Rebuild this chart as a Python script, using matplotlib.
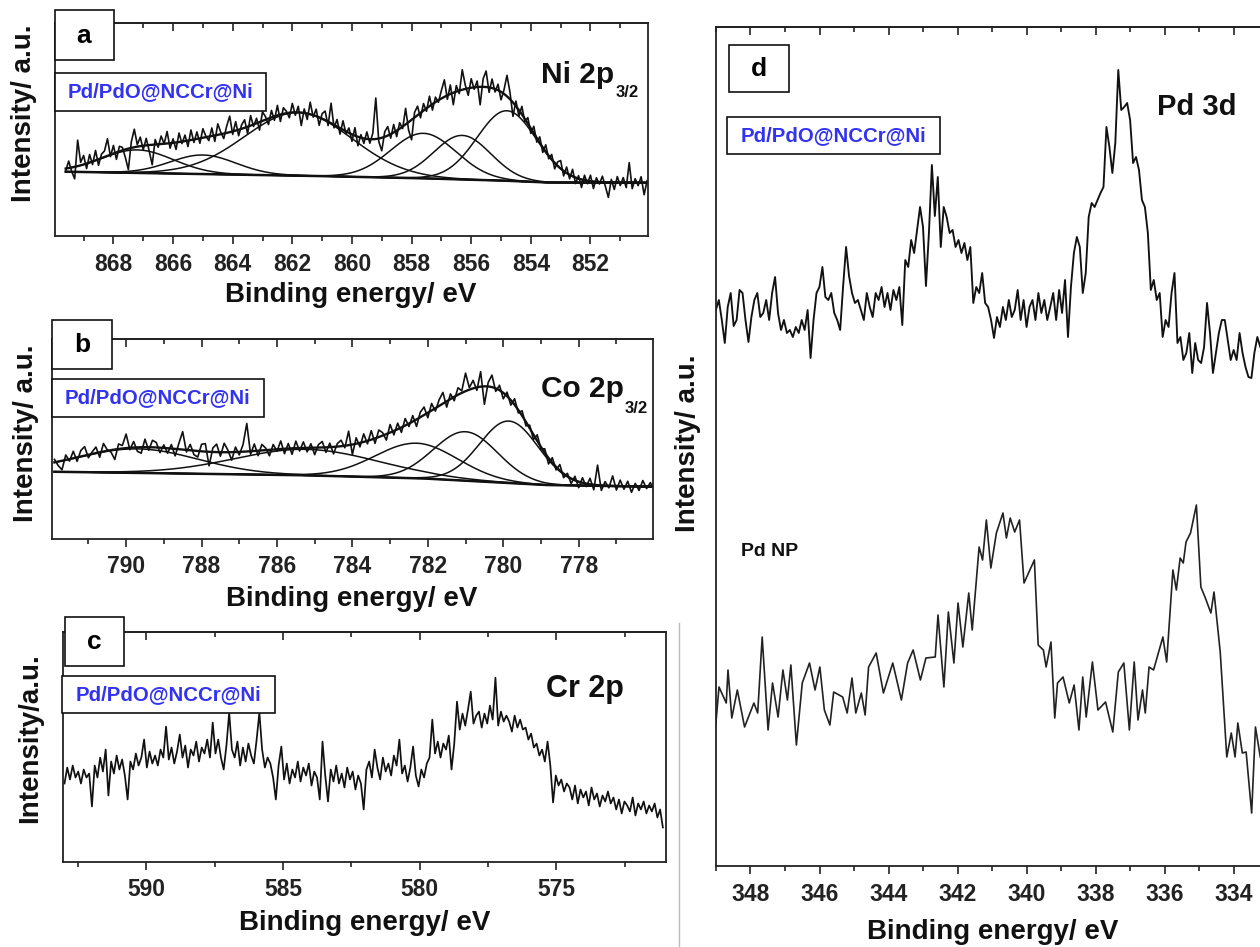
import numpy as np
import matplotlib
matplotlib.use("Agg")
import matplotlib.pyplot as plt
from matplotlib.patches import Rectangle
from matplotlib.lines import Line2D
from matplotlib.ticker import MultipleLocator, FormatStrFormatter, NullFormatter

plt.rcParams['font.family'] = ['Liberation Sans', 'DejaVu Sans']
plt.rcParams['font.weight'] = 'bold'

# ---------------- data ----------------
# (a) Ni 2p3/2 : fitted background, fitted components, residual noise of the measured spectrum (0.1 eV steps)
ni_range = (869.6, 850.1)
ni_bg_ev = [869.6, 866.0, 862.0, 858.0, 855.0, 853.5, 850.1]
ni_bg_int = [64.3, 62.5, 60.5, 58.0, 55.5, 53.5, 53.3]
ni_peak_center = [867.2, 865.0, 861.8, 857.6, 856.3, 854.8]
ni_peak_height = [23, 19, 63, 45, 44, 70]
ni_peak_sigma = [1.2, 1.1, 1.8, 1.1, 0.95, 1.0]
ni_resid = [-2, 7, -4, -12, 26, 3, 9, -5, 8, -3,
            10, -6, 4, 6, 17, -2, 8, -7, 5, 3,
            -8, -21, 6, 18, 2, 9, -4, 7, -6, -20,
            5, -3, 8, 0, 12, -5, 4, -7, 9, -2,
            6, -6, 10, -3, 7, -5, 9, 1, -4, 8,
            -6, 11, 2, -5, 7, 16, -3, 9, -6, 4,
            8, -7, 10, -2, 5, -8, 9, 3, -6, 7,
            -4, 10, -7, 6, 2, -5, 9, -3, 6, -13,
            4, -6, 12, -2, 7, -8, 5, 9, -4, 20,
            -3, 7, -6, 9, -2, 5, -7, 8, -9, 3,
            -5, 7, -4, 6, 41, -3, -13, 5, 9, -4,
            8, -6, 6, -2, 16, -8, -20, 5, 9, -5,
            7, -3, 10, -6, 5, -2, 8, 17, -4, 9,
            -12, 6, -3, 20, 4, -7, 9, -2, 6, -18,
            8, 16, -5, 9, -3, 6, -8, 4, 21, 7,
            -14, 5, -6, 8, -3, 6, -5, 7, -4, 6,
            -5, 7, -3, 5, -6, 4, 8, -5, 6, -4,
            7, -6, 3, -8, 5, -3, 6, -7, 4, -2,
            6, -4, -15, 3, -7, 6, -3, 5, -5, 20,
            -6, 4, -3, 6, -12, 2]

# (b) Co 2p3/2 (residuals at 0.1 eV steps)
co_range = (791.9, 776.0)
co_bg_ev = [792.0, 785.6, 782.2, 778.9, 776.0]
co_bg_int = [67.0, 63.7, 60.4, 53.7, 52.0]
co_peak_center = [789.7, 785.2, 782.3, 781.0, 779.85]
co_peak_height = [24, 26, 35, 49, 62]
co_peak_sigma = [1.6, 1.9, 1.1, 0.85, 0.78]
co_resid = [3, -4, -9, 5, -2, 7, -4, 6, 9, -3,
            2, 6, -5, 8, 1, -2, -10, 5, 3, 14,
            -2, 6, -4, -6, 8, -3, 7, 5, -5, 3,
            -5, 4, -7, 6, 18, -2, 6, -4, -6, 7,
            8, -14, 4, 8, -4, 9, 2, -8, 5, -3,
            7, 28, -3, 7, -5, 6, 2, -6, 5, -2,
            8, -5, 5, -6, 7, -3, 6, -4, 4, -7,
            3, 6, -5, 4, -7, 3, 6, -2, 14, -10,
            6, -4, 8, -3, 9, -5, 7, 3, -6, 8,
            -4, 6, -5, 7, -3, 6, -7, 5, 8, -5,
            7, -3, 6, 11, -6, 5, -4, 7, 2, 18,
            2, 8, -3, 15, -18, 4, 12, -3, 5, -6,
            4, -5, 6, -3, 5, -4, 3, -5, 6, -2,
            4, -6, 5, -3, 6, -4, 3, -5, 4, -6,
            5, -3, 6, -5, 20, -5, 4, -2, 10, -4,
            6, -3, 5, -6, 3, -4, 6, -2, 4, -3]

# (c) Cr 2p  (0.1 eV steps from 593.0 to 571.1)
cr_range = (593.0, 571.1)
cr_int = [78, 94, 82, 96, 84, 90, 78, 92, 84, 88, 55,
          96, 84, 104, 90, 112, 66, 100, 88, 106, 92, 102, 86, 62,
          100, 92, 108, 96, 104, 122, 94, 110, 98, 106, 96, 112, 104, 135,
          102, 114, 98, 110, 127, 104, 116, 94, 112, 106, 120, 100, 114, 108, 122, 104, 139,
          108, 122, 104, 92, 116, 149, 112,
          104, 120, 96, 114, 100, 118, 106, 98, 122, 149,
          112, 94, 104, 98, 84, 62,
          96, 115, 82, 98, 78, 92, 84, 100, 80, 94, 86, 98, 76, 90, 84, 62,
          120, 86, 60, 92, 80, 96, 78, 88, 74, 94, 82, 90, 72, 86, 78, 52,
          92, 100, 84, 112, 94, 82, 104, 90, 98, 86, 106, 96, 122,
          88, 96, 80, 94, 115, 86, 75, 92, 84, 98, 104,
          142, 108, 120, 104, 118, 112, 126, 92, 118,
          160, 132, 148, 136, 152, 170, 138, 146,
          150, 134, 148, 138, 156, 142, 184, 136, 150, 140, 146,
          140, 130, 146, 134, 142, 132,
          134, 122, 128, 114, 118, 106, 112, 100, 120, 96,
          59, 86, 76, 82, 70, 78,
          74, 62, 76, 58, 72, 64, 70, 56, 74, 62, 68, 55, 66, 60, 70, 58,
          64, 52, 62, 48, 60, 56, 50, 64, 46, 58, 52, 60, 48, 56, 50, 58, 44, 52, 34]

# (d) Pd 3d, Pd/PdO@NCCr@Ni (upper trace)
pd_range = (349.0, 333.24)
pd_int = [556, 566, 546, 523, 559, 573, 540, 546, 576, 573,
          546, 524, 549, 566, 573, 549, 553, 566, 546, 573,
          589, 553, 536, 546, 533, 536, 529, 539, 533, 546,
          536, 556, 508, 546, 573, 579, 599, 569, 566, 573,
          553, 546, 536, 580, 619, 590, 573, 563, 566, 556,
          546, 573, 559, 549, 573, 566, 579, 559, 573, 556,
          576, 566, 579, 541, 606, 599, 626, 613, 636, 659,
          639, 580, 633, 701, 650, 689, 619, 659, 649, 633,
          636, 619, 626, 613, 623, 606, 619, 563, 579, 573,
          593, 563, 559, 546, 528, 549, 539, 559, 546, 566,
          549, 556, 576, 546, 566, 539, 559, 566, 546, 573,
          553, 566, 546, 559, 573, 546, 576, 553, 586, 529,
          579, 613, 629, 619, 573, 593, 649, 663, 659, 666,
          673, 679, 739, 719, 693, 723, 796, 756, 759, 763,
          746, 703, 709, 696, 666, 659, 633, 576, 586, 566,
          573, 529, 546, 539, 573, 593, 523, 529, 506, 513,
          533, 493, 523, 506, 503, 519, 563, 533, 493, 513,
          533, 546, 546, 526, 506, 516, 506, 533, 513, 499,
          489, 488, 513, 529, 519]

# (d) Pd NP (lower trace)
pdnp_ev = [349.00, 348.91, 348.70, 348.65, 348.54, 348.38, 348.17, 347.90, 347.79, 347.66,
           347.49, 347.36, 347.20, 347.06, 346.93, 346.83, 346.67, 346.50, 346.29, 346.13,
           345.99, 345.86, 345.70, 345.59, 345.33, 345.20, 345.06, 344.95, 344.79, 344.68,
           344.58, 344.36, 344.15, 343.88, 343.63, 343.45, 343.29, 343.08, 342.92, 342.65,
           342.57, 342.40, 342.27, 342.11, 341.99, 341.85, 341.68, 341.58, 341.38, 341.28,
           341.17, 341.04, 340.88, 340.69, 340.59, 340.48, 340.35, 340.21, 340.08, 339.78,
           339.67, 339.52, 339.44, 339.30, 339.19, 339.11, 338.95, 338.77, 338.63, 338.49,
           338.38, 338.28, 338.10, 337.94, 337.72, 337.51, 337.35, 337.19, 337.03, 336.89,
           336.78, 336.65, 336.57, 336.46, 336.33, 336.06, 335.95, 335.77, 335.67, 335.56,
           335.47, 335.39, 335.26, 335.09, 334.96, 334.83, 334.67, 334.58, 334.40, 334.21,
           334.08, 333.97, 333.89, 333.76, 333.65, 333.49, 333.38, 333.24]
pdnp_int = [143, 179, 163, 196, 148, 176, 139, 163, 153, 229,
            136, 183, 149, 196, 166, 201, 121, 183, 203, 176,
            199, 156, 141, 174, 169, 153, 188, 153, 173, 151,
            199, 213, 173, 203, 166, 203, 216, 186, 208, 209,
            251, 179, 254, 203, 263, 219, 273, 236, 319, 306,
            346, 298, 333, 353, 328, 348, 334, 346, 283, 306,
            221, 216, 199, 224, 148, 183, 189, 163, 181, 136,
            189, 149, 204, 156, 164, 134, 194, 203, 136, 204,
            146, 176, 153, 199, 196, 229, 204, 296, 276, 308,
            303, 324, 333, 361, 279, 268, 253, 274, 214, 109,
            133, 109, 143, 113, 114, 53, 139, 109]

sample_label = "Pd/PdO@NCCr@Ni"
BLUE = '#3232f0'
INK = '#111111'

# ---------------- figure ----------------
W, H = 1260, 947
fig = plt.figure(figsize=(W / 100, H / 100), dpi=100)


def make_axes(l, t, r, b, xlim, ylim, major, minor):
    ax = fig.add_axes([l / W, 1 - b / H, (r - l) / W, (b - t) / H])
    ax.set_xlim(*xlim)
    ax.set_ylim(*ylim)
    ax.set_yticks([])
    ax.xaxis.set_major_locator(MultipleLocator(major))
    ax.xaxis.set_minor_locator(MultipleLocator(minor))
    ax.xaxis.set_major_formatter(FormatStrFormatter('%d'))
    ax.tick_params(axis='x', which='major', direction='out', length=6, width=1.2,
                   labelsize=16.5, pad=6, colors='#222222')
    ax.tick_params(axis='x', which='minor', direction='out', length=3.5, width=1.2,
                   colors='#222222')
    for sp in ax.spines.values():
        sp.set_linewidth(1.3)
        sp.set_color('#222222')
    sec = ax.secondary_xaxis('top')
    sec.xaxis.set_major_locator(MultipleLocator(major))
    sec.xaxis.set_minor_locator(MultipleLocator(minor))
    sec.xaxis.set_major_formatter(NullFormatter())
    sec.tick_params(axis='x', which='major', direction='in', length=6, width=1.2, colors='#222222')
    sec.tick_params(axis='x', which='minor', direction='in', length=3.5, width=1.2, colors='#222222')
    sec.spines['top'].set_linewidth(1.3)
    sec.spines['top'].set_color('#222222')
    return ax


def box(l, t, r, b, lw=1.2):
    fig.add_artist(Rectangle((l / W, 1 - b / H), (r - l) / W, (b - t) / H,
                             transform=fig.transFigure, facecolor='white',
                             edgecolor=INK, lw=lw, zorder=10))


def ftext(x, y, s, **kw):
    kw.setdefault('zorder', 11)
    return fig.text(x / W, 1 - y / H, s, **kw)


def fit_parts(ev, bg_ev, bg_int, centers, heights, sigmas):
    bg = np.interp(ev, bg_ev[::-1], bg_int[::-1])
    comps = [h * np.exp(-0.5 * ((ev - c) / s) ** 2) for c, h, s in zip(centers, heights, sigmas)]
    return bg, comps


def draw_fit(ax, rng, bg_ev, bg_int, centers, heights, sigmas, resid):
    ev_fit = np.linspace(rng[0], rng[1], 600)
    bg, comps = fit_parts(ev_fit, bg_ev, bg_int, centers, heights, sigmas)
    ev_d = np.linspace(rng[0], rng[1], len(resid))
    bg_d, comps_d = fit_parts(ev_d, bg_ev, bg_int, centers, heights, sigmas)
    meas = bg_d + np.sum(comps_d, axis=0) + np.array(resid)
    for c in comps:
        ax.plot(ev_fit, bg + c, color=INK, lw=1.1)
    ax.plot(ev_fit, bg, color=INK, lw=1.8)
    ax.plot(ev_d, meas, color=INK, lw=1.2)
    ax.plot(ev_fit, bg + np.sum(comps, axis=0), color=INK, lw=1.7)


# ---- (a) ----
axa = make_axes(54.7, 22.7, 648, 236, (869.97, 850.07), (0, 213.3), 2, 1)
draw_fit(axa, ni_range, ni_bg_ev, ni_bg_int, ni_peak_center, ni_peak_height, ni_peak_sigma, ni_resid)

# ---- (b) ----
axb = make_axes(51.8, 339.3, 653, 538.7, (791.97, 776.03), (0, 199.4), 2, 1)
draw_fit(axb, co_range, co_bg_ev, co_bg_int, co_peak_center, co_peak_height, co_peak_sigma, co_resid)

# ---- (c) ----
axc = make_axes(63.4, 631.7, 665.6, 861.7, (593.04, 571.0), (-0.3, 230), 5, 2.5)
axc.plot(np.linspace(cr_range[0], cr_range[1], len(cr_int)), cr_int, color=INK, lw=1.25)

# ---- (d) ----
axd = make_axes(715.9, 26.7, 1290, 866, (349.0, 332.38), (0, 839.3), 2, 1)
axd.plot(np.linspace(pd_range[0], pd_range[1], len(pd_int)), pd_int, color=INK, lw=1.35)
axd.plot(pdnp_ev, pdnp_int, color='#222222', lw=1.2)

# ---- labels & boxes ----
lab_kw = dict(fontsize=19, ha='center', va='center', fontweight='bold')
smp_kw = dict(fontsize=14.7, ha='center', va='center', color=BLUE, fontweight='bold')
axl_kw = dict(fontsize=20, ha='center', va='center', fontweight='bold', color=INK)

renderer = fig.canvas.get_renderer()


def core_level(x, y, main, sub, size, sub_drop):
    t = ftext(x, y, main, fontsize=size, ha='left', va='baseline', color=INK)
    if sub:
        bb = t.get_window_extent(renderer)
        ftext(bb.x1 + 1, y + sub_drop, sub, fontsize=12, ha='left', va='baseline', color=INK)


# a
box(54.7, 10, 113.6, 60)
ftext(84, 36, 'a', **lab_kw)
box(54.7, 73.3, 266, 111)
ftext(160.3, 92, sample_label, **smp_kw)
core_level(541, 83.3, 'Ni 2p', '3/2', 21.5, 14)
ftext(24, 113.5, 'Intensity/ a.u.', rotation=90, **axl_kw)
ftext(351, 295, 'Binding energy/ eV', **axl_kw)

# b
box(51.8, 320, 112, 369)
ftext(82, 344.5, 'b', **lab_kw)
box(51.8, 379, 264, 416.7)
ftext(158, 398, sample_label, **smp_kw)
core_level(541, 396.7, 'Co 2p', '3/2', 21.5, 16)
ftext(26, 433, 'Intensity/ a.u.', rotation=90, **axl_kw)
ftext(352, 599, 'Binding energy/ eV', **axl_kw)

# c
box(64.7, 617.3, 123.7, 666)
ftext(94, 641.6, 'c', **lab_kw)
box(62, 676, 275.3, 712.7)
ftext(168.7, 694.3, sample_label, **smp_kw)
core_level(546, 697.3, 'Cr 2p', None, 22, 0)
ftext(30.6, 738, 'Intensity/a.u.', rotation=90, **axl_kw)
ftext(364.5, 923, 'Binding energy/ eV', **axl_kw)

# d
box(728.8, 45, 789, 92.3)
ftext(759, 68.7, 'd', **lab_kw)
box(727.4, 116.7, 939.7, 154)
ftext(833.5, 135.3, sample_label, **smp_kw)
core_level(1157, 115, 'Pd 3d', None, 21, 0)
ftext(741, 551.5, 'Pd NP', fontsize=14, ha='left', va='center', color=INK)
ftext(688, 443, 'Intensity/ a.u.', rotation=90, **axl_kw)
ftext(993, 932, 'Binding energy/ eV', **axl_kw)

# thin separator between left column and panel d
fig.add_artist(Line2D([679 / W, 679 / W], [1 - 623 / H, 0], transform=fig.transFigure,
                      color='#bbbbbb', lw=1.0))

fig.savefig('out.png', dpi=100)
